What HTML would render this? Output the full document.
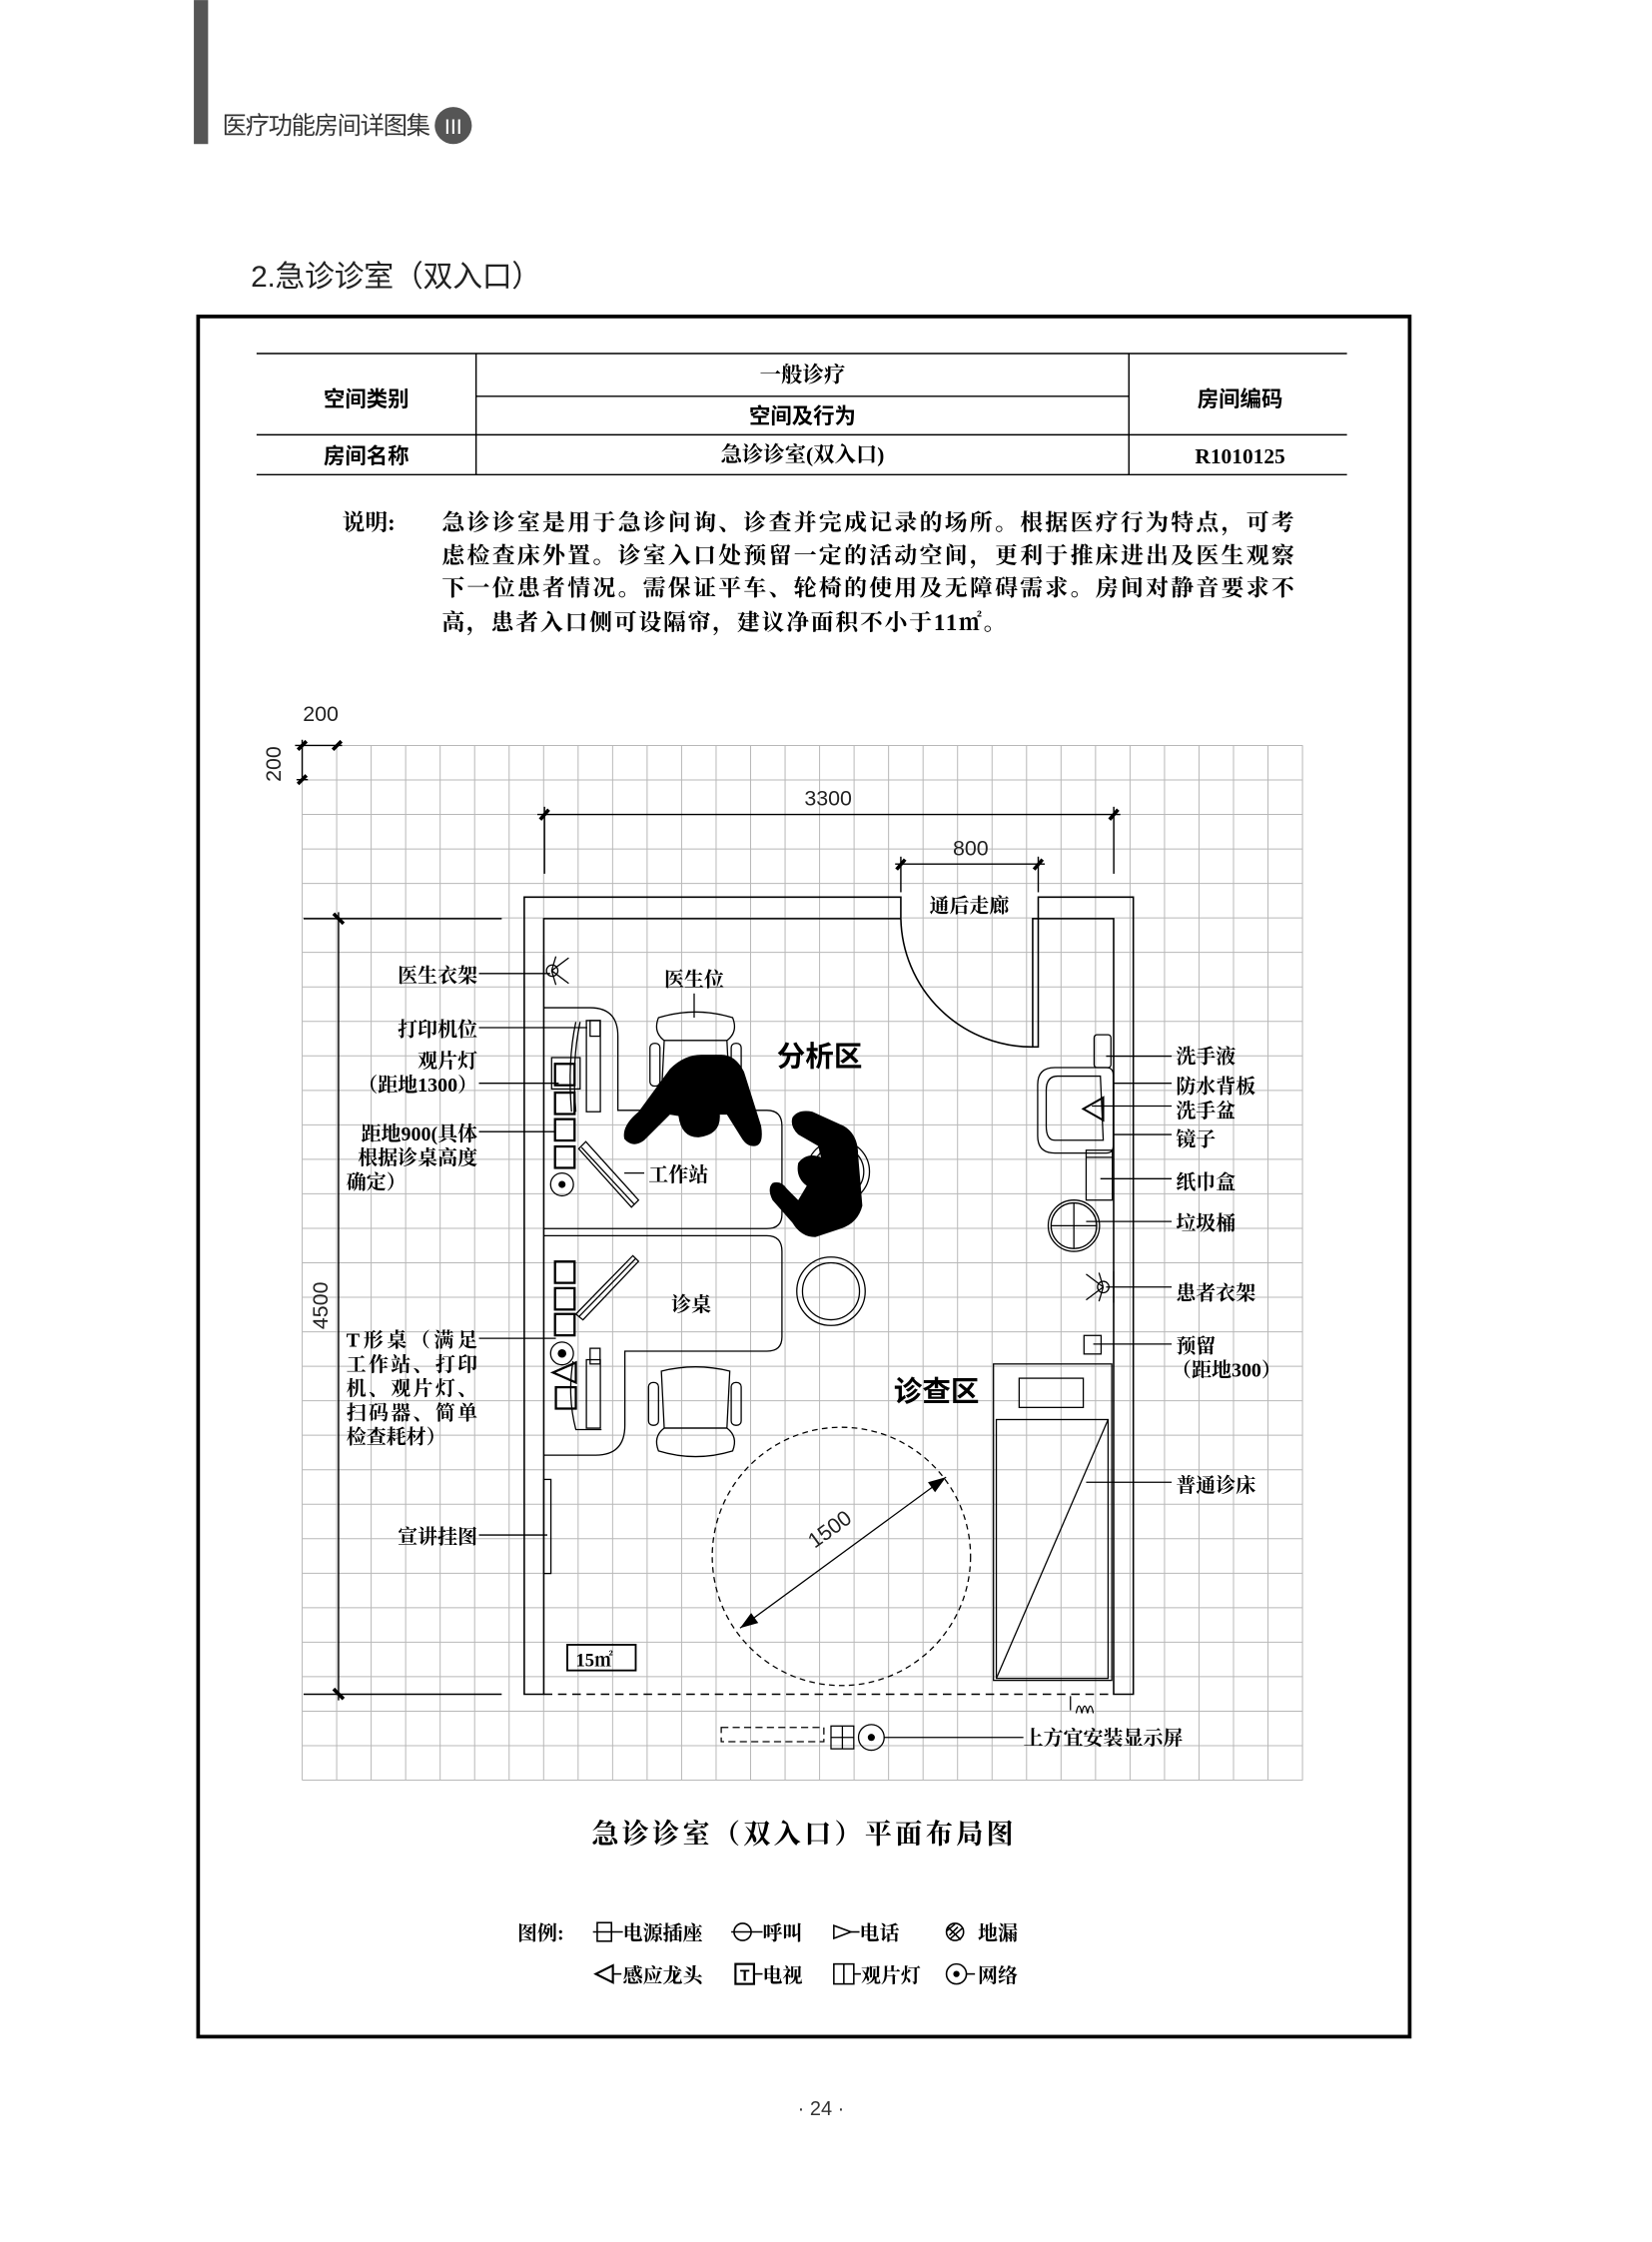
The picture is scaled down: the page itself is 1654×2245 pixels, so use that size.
<!DOCTYPE html>
<html><head><meta charset="utf-8"><style>
html,body{margin:0;padding:0;background:#fff}
svg{display:block}
.s{font-family:"Liberation Sans","Noto Sans CJK SC",sans-serif}
.f{font-family:"Liberation Serif","Noto Serif CJK SC",serif;font-weight:700}
</style></head><body>
<svg width="1654" height="2245" viewBox="0 0 1159 1573" xmlns="http://www.w3.org/2000/svg">
<rect x="0" y="0" width="1159" height="1573" fill="#fff"/>
<rect x="136" y="0" width="10" height="101" fill="#555"/>
<text x="156" y="94" class="s" font-size="17" fill="#333" textLength="146">医疗功能房间详图集</text>
<circle cx="318" cy="88" r="13" fill="#555"/>
<text x="318" y="94" class="s" font-size="15" fill="#fff" text-anchor="middle">III</text>
<text x="176" y="201" class="s" font-size="21" fill="#222" textLength="204">2.急诊诊室（双入口）</text>
<rect x="139" y="222" width="850" height="1207" fill="none" stroke="#000" stroke-width="2.6"/>
<g stroke="#000" stroke-width="1">
<line x1="180" y1="248" x2="945" y2="248"/>
<line x1="334" y1="278" x2="792" y2="278"/>
<line x1="180" y1="305" x2="945" y2="305"/>
<line x1="180" y1="333" x2="945" y2="333"/>
<line x1="334" y1="248" x2="334" y2="333"/>
<line x1="792" y1="248" x2="792" y2="333"/>
</g>
<g class="s" font-size="15" font-weight="700" text-anchor="middle" fill="#000">
<text x="257" y="285">空间类别</text>
<text x="563" y="297">空间及行为</text>
<text x="870" y="285">房间编码</text>
<text x="257" y="325">房间名称</text>
</g>
<g class="f" font-size="15" text-anchor="middle">
<text x="563" y="268">一般诊疗</text>
<text x="563" y="324">急诊诊室(双入口)</text>
<text x="870" y="325">R1010125</text>
</g>
<g class="f" font-size="16">
<text x="240" y="372">说明:</text>
<text x="310" y="372" textLength="598">急诊诊室是用于急诊问询、诊查并完成记录的场所。根据医疗行为特点，可考</text>
<text x="310" y="395" textLength="598">虑检查床外置。诊室入口处预留一定的活动空间，更利于推床进出及医生观察</text>
<text x="310" y="418" textLength="598">下一位患者情况。需保证平车、轮椅的使用及无障碍需求。房间对静音要求不</text>
<text x="310" y="442" textLength="396">高，患者入口侧可设隔帘，建议净面积不小于11㎡。</text>
</g>
<g stroke="#b8b8b8" stroke-width="0.7">
<line x1="212" y1="523" x2="212" y2="1249"/><line x1="236.2" y1="523" x2="236.2" y2="1249"/><line x1="260.4" y1="523" x2="260.4" y2="1249"/><line x1="284.6" y1="523" x2="284.6" y2="1249"/><line x1="308.8" y1="523" x2="308.8" y2="1249"/><line x1="333" y1="523" x2="333" y2="1249"/><line x1="357.2" y1="523" x2="357.2" y2="1249"/><line x1="381.4" y1="523" x2="381.4" y2="1249"/><line x1="405.6" y1="523" x2="405.6" y2="1249"/><line x1="429.8" y1="523" x2="429.8" y2="1249"/><line x1="454" y1="523" x2="454" y2="1249"/><line x1="478.2" y1="523" x2="478.2" y2="1249"/><line x1="502.4" y1="523" x2="502.4" y2="1249"/><line x1="526.6" y1="523" x2="526.6" y2="1249"/><line x1="550.8" y1="523" x2="550.8" y2="1249"/><line x1="575" y1="523" x2="575" y2="1249"/><line x1="599.2" y1="523" x2="599.2" y2="1249"/><line x1="623.4" y1="523" x2="623.4" y2="1249"/><line x1="647.6" y1="523" x2="647.6" y2="1249"/><line x1="671.8" y1="523" x2="671.8" y2="1249"/><line x1="696" y1="523" x2="696" y2="1249"/><line x1="720.2" y1="523" x2="720.2" y2="1249"/><line x1="744.4" y1="523" x2="744.4" y2="1249"/><line x1="768.6" y1="523" x2="768.6" y2="1249"/><line x1="792.8" y1="523" x2="792.8" y2="1249"/><line x1="817" y1="523" x2="817" y2="1249"/><line x1="841.2" y1="523" x2="841.2" y2="1249"/><line x1="865.4" y1="523" x2="865.4" y2="1249"/><line x1="889.6" y1="523" x2="889.6" y2="1249"/><line x1="913.8" y1="523" x2="913.8" y2="1249"/>
<line x1="212" y1="523" x2="914" y2="523"/><line x1="212" y1="547.2" x2="914" y2="547.2"/><line x1="212" y1="571.4" x2="914" y2="571.4"/><line x1="212" y1="595.6" x2="914" y2="595.6"/><line x1="212" y1="619.8" x2="914" y2="619.8"/><line x1="212" y1="644" x2="914" y2="644"/><line x1="212" y1="668.2" x2="914" y2="668.2"/><line x1="212" y1="692.4" x2="914" y2="692.4"/><line x1="212" y1="716.6" x2="914" y2="716.6"/><line x1="212" y1="740.8" x2="914" y2="740.8"/><line x1="212" y1="765" x2="914" y2="765"/><line x1="212" y1="789.2" x2="914" y2="789.2"/><line x1="212" y1="813.4" x2="914" y2="813.4"/><line x1="212" y1="837.6" x2="914" y2="837.6"/><line x1="212" y1="861.8" x2="914" y2="861.8"/><line x1="212" y1="886" x2="914" y2="886"/><line x1="212" y1="910.2" x2="914" y2="910.2"/><line x1="212" y1="934.4" x2="914" y2="934.4"/><line x1="212" y1="958.6" x2="914" y2="958.6"/><line x1="212" y1="982.8" x2="914" y2="982.8"/><line x1="212" y1="1007" x2="914" y2="1007"/><line x1="212" y1="1031.2" x2="914" y2="1031.2"/><line x1="212" y1="1055.4" x2="914" y2="1055.4"/><line x1="212" y1="1079.6" x2="914" y2="1079.6"/><line x1="212" y1="1103.8" x2="914" y2="1103.8"/><line x1="212" y1="1128" x2="914" y2="1128"/><line x1="212" y1="1152.2" x2="914" y2="1152.2"/><line x1="212" y1="1176.4" x2="914" y2="1176.4"/><line x1="212" y1="1200.6" x2="914" y2="1200.6"/><line x1="212" y1="1224.8" x2="914" y2="1224.8"/><line x1="212" y1="1249" x2="914" y2="1249"/>
</g>
<g stroke="#000" stroke-width="1" fill="none">
<line x1="207" y1="523" x2="240" y2="523"/><line x1="212" y1="519" x2="212" y2="548"/><line x1="208" y1="547" x2="216" y2="547"/>
<line x1="209" y1="526" x2="215" y2="520" stroke-width="2.5"/><line x1="233.5" y1="526" x2="239.5" y2="520" stroke-width="2.5"/><line x1="209" y1="550" x2="215" y2="544" stroke-width="2.5"/>
<line x1="377" y1="571.4" x2="786" y2="571.4"/>
<line x1="382" y1="566" x2="382" y2="613"/><line x1="781.4" y1="566" x2="781.4" y2="613"/>
<line x1="379" y1="575" x2="385" y2="568" stroke-width="2.5"/><line x1="778.4" y1="575" x2="784.4" y2="568" stroke-width="2.5"/>
<line x1="628" y1="606.2" x2="733" y2="606.2"/>
<line x1="632" y1="601" x2="632" y2="626"/><line x1="728.4" y1="601" x2="728.4" y2="626"/>
<line x1="629" y1="610" x2="635" y2="603" stroke-width="2.5"/><line x1="725.4" y1="610" x2="731.4" y2="603" stroke-width="2.5"/>
<line x1="213" y1="644.5" x2="352" y2="644.5"/><line x1="213" y1="1188.7" x2="352" y2="1188.7"/>
<line x1="237.5" y1="640" x2="237.5" y2="1193"/>
<line x1="234" y1="641" x2="241" y2="648" stroke-width="2.5"/><line x1="234" y1="1185" x2="241" y2="1192" stroke-width="2.5"/>
</g>
<g class="s" font-size="15" fill="#222">
<text x="225" y="506" text-anchor="middle">200</text>
<text transform="translate(197,536) rotate(-90)" text-anchor="middle">200</text>
<text x="581" y="565" text-anchor="middle">3300</text>
<text x="681" y="600" text-anchor="middle">800</text>
<text transform="translate(230,916) rotate(-90)" text-anchor="middle">4500</text>
<text transform="translate(585,1077) rotate(-36)" text-anchor="middle">1500</text>
</g>
<g stroke="#000" stroke-width="1.1" fill="none">
<path d="M632,644.5 L632,629.4 L367.8,629.4 L367.8,1188.7 L381.5,1188.7 L381.5,644.5 L632,644.5"/>
<path d="M728.4,644.5 L728.4,629.4 L795.1,629.4 L795.1,1188.7 L781.3,1188.7 L781.3,644.5 L728.4,644.5"/>
<line x1="381.5" y1="1188.7" x2="781.3" y2="1188.7" stroke-dasharray="6,4"/>
<rect x="724.5" y="644.5" width="3.9" height="90"/>
<path d="M632,644.5 A92,92 0 0 0 724.5,734.5"/>
</g>
<g stroke="#000" stroke-width="0.9" fill="none">
<path d="M381.5,707 L414,707 Q433.5,707 433.5,727 L433.5,779 L538,779 Q548.6,779 548.6,790 L548.6,852 Q548.6,862 538,862 L381.5,862"/>
<path d="M381.5,867 L538,867 Q548.6,867 548.6,878 L548.6,938 Q548.6,948 538,948 L438.4,948 L438.4,1000 Q438.4,1021 418,1021 L381.5,1021"/>
<path d="M462,714 Q488,706 514,714 Q518,724 510,730 L466,730 Q458,724 462,714 Z"/>
<path d="M466,730 L510,730 L512,770 L464,770 Z"/>
<rect x="456" y="732" width="7" height="30" rx="3"/><rect x="513" y="732" width="7" height="30" rx="3"/>
<path d="M462,1018 Q488,1026 514,1018 Q518,1008 510,1002 L466,1002 Q458,1008 462,1018 Z"/>
<path d="M466,1002 L510,1002 L512,962 Q488,956 464,962 Z"/>
<rect x="455" y="970" width="7" height="30" rx="3"/><rect x="513" y="970" width="7" height="30" rx="3"/>
<circle cx="583" cy="906" r="24"/><circle cx="583" cy="906" r="20"/>
<circle cx="588" cy="822" r="22"/><circle cx="588" cy="822" r="18"/>
<path d="M406,806 L411,801 L448,842 L443,847 Z"/><line x1="408" y1="805" x2="445" y2="845"/>
<path d="M404,922 L409,926 L448,885 L444,881 Z"/><line x1="406" y1="924" x2="446" y2="883"/>
<rect x="411.4" y="716" width="9.8" height="64"/><rect x="414" y="716" width="7" height="11"/>
<path d="M404,717 Q398,745 401,780"/><path d="M407,717 Q401,745 404,780"/>
<rect x="411.4" y="954" width="9.8" height="48"/><rect x="414" y="946" width="7" height="11"/>
<path d="M402,955 Q398,980 404,1003 L422,1003"/>
<g stroke-width="1.6">
<rect x="389.4" y="746.4" width="13.7" height="15"/><rect x="389.4" y="766.6" width="13.7" height="15"/>
<rect x="389.4" y="785.2" width="13.7" height="15"/><rect x="389.4" y="804.4" width="13.7" height="15"/>
<rect x="389.4" y="885.1" width="13.7" height="15"/><rect x="389.4" y="903.8" width="13.7" height="15"/>
<rect x="389.4" y="921.9" width="13.7" height="15"/><rect x="390" y="973.3" width="14" height="15"/>
</g>
<rect x="387" y="742" width="20" height="22"/>
<circle cx="394.3" cy="831" r="8"/><circle cx="394.3" cy="949.6" r="8"/>
<path d="M388,963 L404,956 L404,970 Z" stroke-width="1.6"/>
<circle cx="387.4" cy="681" r="4"/><line x1="381.5" y1="670" x2="381.5" y2="692"/><path d="M387,681 L399,672 M387,681 L399,690 M387,681 L390,671 M387,681 L390,691"/>
<circle cx="774" cy="903" r="4"/><line x1="781.3" y1="892" x2="781.3" y2="914"/><path d="M774,903 L762,894 M774,903 L762,912 M774,903 L771,893 M774,903 L771,913"/>
<rect x="381.5" y="1038" width="5" height="66"/>
<rect x="767.6" y="726" width="11.8" height="23" rx="2"/>
<path d="M740,749 L776,749 Q781,749 781,754 L781,804 Q781,809 776,809 L740,809 Q728,809 728,797 L728,761 Q728,749 740,749 Z"/>
<path d="M742,755 L772,755 L774,800 L740,800 Q734,800 734,790 L734,765 Q734,755 742,755 Z"/>
<path d="M760,778 L774,770 L774,786 Z" stroke-width="1.4"/>
<rect x="762" y="807" width="18.4" height="35"/><line x1="762" y1="812" x2="780.4" y2="812"/>
<circle cx="753.4" cy="860" r="18"/><circle cx="753.4" cy="860" r="16"/><line x1="753.4" y1="844" x2="753.4" y2="876"/><line x1="737.4" y1="860" x2="769.4" y2="860"/>
<rect x="760.5" y="937" width="12" height="13"/>
<rect x="697" y="957" width="83" height="222"/>
<rect x="715" y="967" width="45" height="20.5"/>
<rect x="699" y="996" width="78.4" height="181.6"/>
<line x1="777.4" y1="996" x2="699" y2="1177.6"/>
<circle cx="590.3" cy="1092" r="90.6" stroke-dasharray="4,3"/>
<line x1="663.7" y1="1036.4" x2="519.2" y2="1142.3"/>
<rect x="398" y="1154" width="48" height="18" stroke-width="1.3"/>
<rect x="506" y="1212" width="72" height="10" stroke-dasharray="5,3"/>
<rect x="583" y="1211" width="16" height="16"/><line x1="591" y1="1211" x2="591" y2="1227"/><line x1="583" y1="1219" x2="599" y2="1219"/>
<circle cx="611.3" cy="1219" r="9"/>
<path d="M755,1202 q2,-10 4,0 q2,-10 4,0 q2,-10 4,0"/><line x1="751" y1="1190" x2="751" y2="1200"/>
</g>
<path d="M663.7,1036.4 L651,1040 L656,1047 Z" fill="#000"/>
<path d="M519.2,1142.3 L532,1138.7 L527,1131.7 Z" fill="#000"/>
<circle cx="611.3" cy="1219" r="2.5"/><circle cx="394.3" cy="831" r="2.5"/><circle cx="394.3" cy="949.6" r="3"/>
<path d="M438,799 Q436,790 448,780 L470,750 Q480,740 492,740 L506,740 Q516,740 522,752 L534,790 Q536,803 530,804 Q524,805 520,798 L510,782 L505,782 Q506,796 490,798 Q478,798 476,783 L470,782 L452,800 Q444,806 438,799 Z" fill="#000"/>
<path d="M556,784 Q560,778 570,780 L592,790 Q602,796 602,810 L605,846 Q602,858 590,862 L572,868 Q562,868 556,858 L542,842 Q538,834 542,830 Q548,828 552,834 L560,842 L566,832 Q558,826 560,816 Q566,808 576,812 L574,804 L560,796 Q554,790 556,784 Z" fill="#000"/>
<g stroke="#000" stroke-width="0.9">
<line x1="336" y1="683" x2="386" y2="683"/>
<line x1="336" y1="721" x2="412" y2="721"/>
<line x1="336" y1="760" x2="392" y2="760"/>
<line x1="336" y1="794" x2="390" y2="794"/>
<line x1="438" y1="823" x2="452" y2="823"/>
<line x1="336" y1="939" x2="390" y2="939"/>
<line x1="336" y1="1077" x2="384" y2="1077"/>
<line x1="487" y1="697" x2="487" y2="714"/>
<line x1="776" y1="741" x2="822" y2="741"/>
<line x1="781" y1="760" x2="822" y2="760"/>
<line x1="766" y1="776" x2="822" y2="776"/>
<line x1="781" y1="796" x2="822" y2="796"/>
<line x1="772" y1="827" x2="822" y2="827"/>
<line x1="762" y1="857" x2="822" y2="857"/>
<line x1="776" y1="903" x2="822" y2="903"/>
<line x1="767" y1="943" x2="822" y2="943"/>
<line x1="762" y1="1040" x2="822" y2="1040"/>
<line x1="620" y1="1219" x2="718" y2="1219"/>
</g>
<g class="f" font-size="14" fill="#000">
<g text-anchor="end">
<text x="335" y="689">医生衣架</text>
<text x="335" y="727">打印机位</text>
<text x="335" y="749">观片灯</text>
<text x="335" y="766">（距地1300）</text>
<text x="335" y="800">距地900(具体</text>
<text x="335" y="817">根据诊桌高度</text>
</g>
<text x="243" y="834">确定）</text>
<text x="455" y="829">工作站</text>
<text x="243" y="945" textLength="92">T形桌（满足</text>
<text x="243" y="962" textLength="92">工作站、打印</text>
<text x="243" y="979" textLength="92">机、观片灯、</text>
<text x="243" y="996" textLength="92">扫码器、简单</text>
<text x="243" y="1013">检查耗材）</text>
<text x="335" y="1083" text-anchor="end">宣讲挂图</text>
<text x="487" y="692" text-anchor="middle">医生位</text>
<text x="485" y="920" text-anchor="middle">诊桌</text>
<text x="680" y="640" text-anchor="middle">通后走廊</text>
<text x="825" y="746">洗手液</text>
<text x="825" y="767">防水背板</text>
<text x="825" y="784">洗手盆</text>
<text x="825" y="804">镜子</text>
<text x="825" y="834">纸巾盒</text>
<text x="825" y="863">垃圾桶</text>
<text x="825" y="912">患者衣架</text>
<text x="825" y="949">预留</text>
<text x="822" y="966">（距地300）</text>
<text x="825" y="1047">普通诊床</text>
<text x="718" y="1224">上方宜安装显示屏</text>
<text x="404" y="1169" font-size="13">15㎡</text>
</g>
<g class="s" font-size="20" font-weight="700">
<text x="575" y="748" text-anchor="middle">分析区</text>
<text x="657" y="983" text-anchor="middle">诊查区</text>
</g>
<text x="563" y="1293" class="f" font-size="19" text-anchor="middle" textLength="296">急诊诊室（双入口）平面布局图</text>
<g stroke="#000" stroke-width="1.1" fill="none">
<rect x="419" y="1349" width="10" height="13"/><line x1="416" y1="1355.5" x2="437" y2="1355.5"/>
<circle cx="521" cy="1355.5" r="6"/><line x1="513" y1="1355.5" x2="535" y2="1355.5"/>
<path d="M585,1351 L597,1355.5 L585,1360 Z"/><line x1="597" y1="1355.5" x2="603" y2="1355.5"/>
<circle cx="670" cy="1355.5" r="6"/><path d="M665,1352 L674,1361 M666,1358 L672,1352 M667,1360 L675,1353 M664,1355 L670,1350"/>
<path d="M430,1379 L418,1385 L430,1391 Z" stroke-width="1.5"/><line x1="430" y1="1385" x2="436" y2="1385"/>
<rect x="516" y="1378" width="13" height="14" stroke-width="1.5"/><line x1="529" y1="1385" x2="535" y2="1385"/>
<rect x="585" y="1378" width="14" height="14"/><line x1="592" y1="1378" x2="592" y2="1392"/><line x1="599" y1="1385" x2="604" y2="1385"/>
<circle cx="671" cy="1385" r="7"/><line x1="678" y1="1385" x2="684" y2="1385"/>
</g>
<circle cx="671" cy="1385" r="2.2"/>
<text x="522.5" y="1390" class="s" font-size="11" font-weight="700" text-anchor="middle">T</text>
<g class="f" font-size="14">
<text x="363" y="1361">图例:</text>
<text x="437" y="1361">电源插座</text>
<text x="535" y="1361">呼叫</text>
<text x="603" y="1361">电话</text>
<text x="686" y="1361">地漏</text>
<text x="437" y="1391">感应龙头</text>
<text x="535" y="1391">电视</text>
<text x="604" y="1391">观片灯</text>
<text x="686" y="1391">网络</text>
</g>
<text x="576" y="1484" class="s" font-size="14" fill="#333" text-anchor="middle">· 24 ·</text>
</svg>
</body></html>
